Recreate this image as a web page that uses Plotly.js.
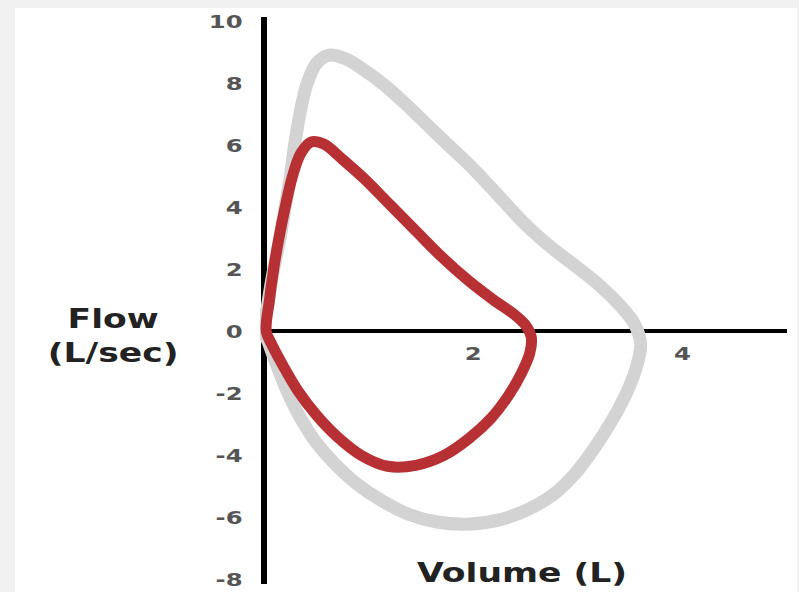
<!DOCTYPE html>
<html>
<head>
<meta charset="utf-8">
<script src="https://cdn.plot.ly/plotly-3.0.1.min.js"></script>
<style>
  html, body { margin: 0; padding: 0; background: #f1f1f1; width: 799px; height: 592px; overflow: hidden; }
  #chart { position: absolute; left: 15px; top: 8px; width: 782px; height: 584px; background: #ffffff; }
</style>
</head>
<body>
<div id="chart"></div>
<script>
// Normal flow-volume loop (grey)
const normalVolume = [0, 0.04, 0.09, 0.15, 0.2, 0.25, 0.29, 0.34, 0.41, 0.5, 0.62, 0.78, 0.95, 1.15, 1.35, 1.55, 1.75, 2.0, 2.25, 2.5, 2.75, 3.0, 3.22, 3.4, 3.54, 3.6, 3.56, 3.47, 3.33, 3.16, 2.97, 2.77, 2.52, 2.25, 1.95, 1.65, 1.38, 1.12, 0.88, 0.67, 0.49, 0.34, 0.21, 0.11, 0.04, 0];
const normalFlow   = [0, 1.0, 2.0, 3.0, 4.0, 5.0, 6.0, 7.0, 8.0, 8.65, 8.92, 8.8, 8.45, 7.95, 7.35, 6.7, 6.05, 5.25, 4.35, 3.45, 2.7, 2.05, 1.45, 0.85, 0.25, -0.4, -1.15, -1.95, -2.85, -3.75, -4.6, -5.25, -5.75, -6.08, -6.22, -6.15, -5.9, -5.45, -4.9, -4.25, -3.55, -2.75, -1.85, -1.0, -0.35, 0];

// Restrictive flow-volume loop (red)
const restrictVolume = [0.02, 0.05, 0.09, 0.14, 0.2, 0.27, 0.35, 0.45, 0.57, 0.75, 0.95, 1.2, 1.45, 1.7, 1.95, 2.2, 2.38, 2.5, 2.555, 2.54, 2.46, 2.34, 2.17, 1.96, 1.72, 1.45, 1.18, 0.93, 0.7, 0.5, 0.32, 0.18, 0.07, 0.02];
const restrictFlow   = [0, 1.0, 2.0, 3.0, 4.0, 5.0, 5.75, 6.12, 6.05, 5.55, 4.95, 4.1, 3.25, 2.4, 1.65, 1.0, 0.58, 0.2, -0.2, -0.7, -1.35, -2.05, -2.8, -3.45, -4.0, -4.32, -4.35, -4.0, -3.4, -2.7, -1.9, -1.1, -0.4, 0];

const yTickVals = [10, 8, 6, 4, 2, 0, -2, -4, -6, -8];
const yTickText = ['10', '8', '6', '4', '2', '0', '-2', '-4', '-6', '-8'];
const xTickVals = [2, 4];
const xTickText = ['2', '4'];

const xRange = [-0.04, 5.0];
const yRange = [-8.15, 10.15];

const traces = [
  { x: normalVolume, y: normalFlow, mode: 'lines', line: { color: '#d3d3d3', width: 13, shape: 'spline', smoothing: 1 }, hoverinfo: 'skip' },
  { x: restrictVolume, y: restrictFlow, mode: 'lines', line: { color: '#b63034', width: 11, shape: 'spline', smoothing: 1 }, hoverinfo: 'skip' }
];

const tickFont = { family: 'DejaVu Sans', size: 18, color: '#555555', weight: 'bold' };
const titleFont = { family: 'DejaVu Sans', size: 26, color: '#222222', weight: 'bold' };

const layout = {
  width: 782, height: 584,
  margin: { l: 245, r: 10, t: 9, b: 8 },
  paper_bgcolor: '#ffffff', plot_bgcolor: '#ffffff',
  showlegend: false,
  xaxis: {
    range: xRange, anchor: 'free', position: (0 - yRange[0]) / (yRange[1] - yRange[0]),
    showgrid: false, zeroline: false, showline: true, linecolor: '#000000', linewidth: 4,
    tickvals: xTickVals, ticktext: xTickText, ticks: 'outside', ticklen: 5, tickcolor: 'rgba(0,0,0,0)',
    tickfont: tickFont, layer: 'below traces', fixedrange: true
  },
  yaxis: {
    range: yRange, anchor: 'free', position: (0 - xRange[0]) / (xRange[1] - xRange[0]),
    showgrid: false, zeroline: false, showline: true, linecolor: '#000000', linewidth: 6,
    tickvals: yTickVals, ticktext: yTickText, ticks: 'outside', ticklen: 15, tickcolor: 'rgba(0,0,0,0)',
    tickfont: tickFont, layer: 'below traces', fixedrange: true
  },
  annotations: [
    { text: 'Flow<br>(L/sec)', xref: 'paper', yref: 'paper', x: -0.279, y: 0.438, xanchor: 'center', yanchor: 'middle', showarrow: false, font: titleFont, align: 'center' },
    { text: 'Volume (L)', xref: 'paper', yref: 'paper', x: 0.498, y: 0.02, xanchor: 'center', yanchor: 'middle', showarrow: false, font: titleFont }
  ]
};

// The reference lettering is horizontally wide; widen the real text elements.
function widen(el, s, anchorX) {
  const old = el.getAttribute('transform') || '';
  el.setAttribute('transform', old + ' translate(' + anchorX + ',0) scale(' + s + ',1) translate(' + (-anchorX) + ',0)');
}

Plotly.newPlot('chart', traces, layout, { staticPlot: true, displayModeBar: false }).then(function (gd) {
  gd.querySelectorAll('.ytick text, .xtick text').forEach(function (t) {
    widen(t, 1.35, parseFloat(t.getAttribute('x') || '0'));
  });
  gd.querySelectorAll('.annotation-text').forEach(function (t) {
    const b = t.getBBox();
    widen(t, 1.33, b.x + b.width / 2);
  });
});
</script>
</body>
</html>
